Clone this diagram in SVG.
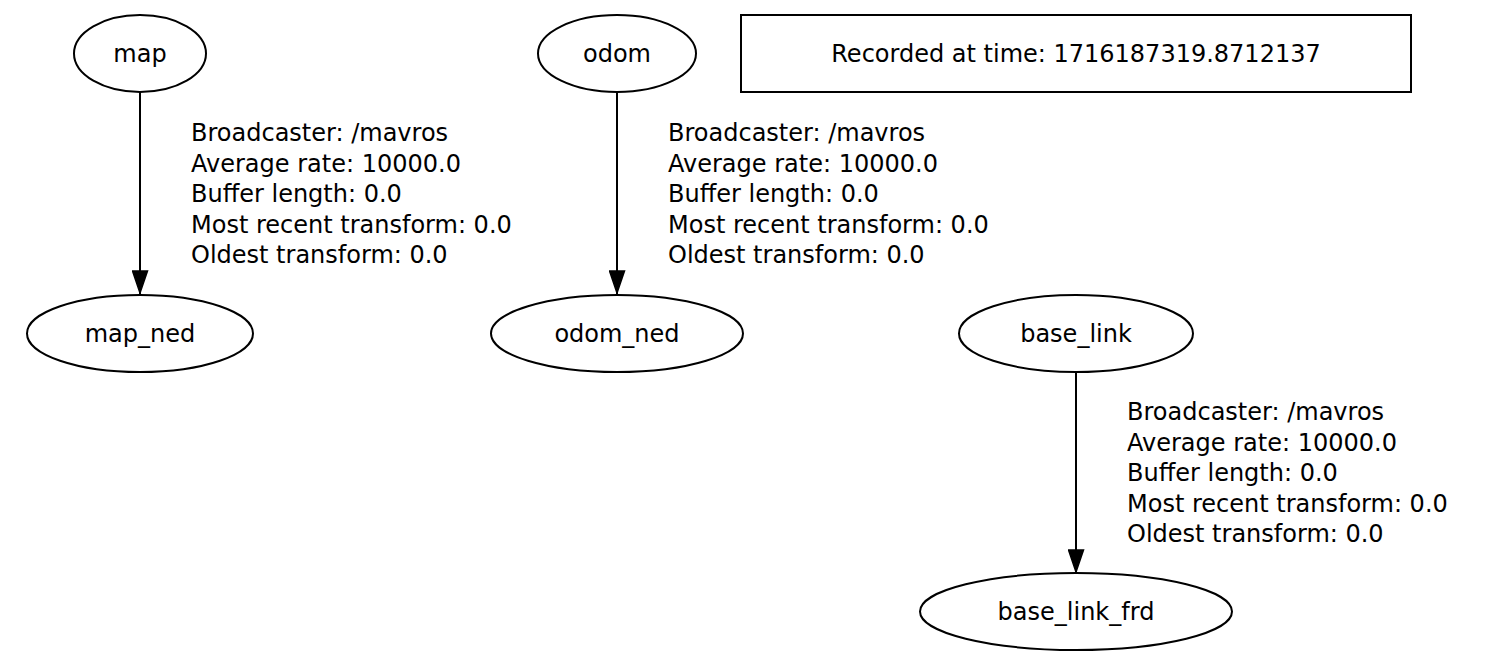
<svg xmlns="http://www.w3.org/2000/svg" width="1486" height="671" viewBox="0 0 1486 671">
<style>
.n{fill:#fff;stroke:#000;stroke-width:2}
.t{font-family:"DejaVu Sans",sans-serif;font-size:24px;fill:#000}
.c{text-anchor:middle}
.e{stroke:#000;stroke-width:2;fill:none}
</style>
<defs>
<marker id="ah" markerUnits="userSpaceOnUse" markerWidth="24" markerHeight="17" refX="24" refY="8.5" orient="auto" viewBox="0 0 24 17">
<path d="M1,1 L23,8.5 L1,16 Z" fill="#000" stroke="#000" stroke-width="1.5"/>
</marker>
</defs>
<rect width="1486" height="671" fill="#fff"/>
<g id="connectors">
<line class="e" x1="140" y1="92" x2="140" y2="294" marker-end="url(#ah)"/>
<line class="e" x1="617" y1="92" x2="617" y2="294" marker-end="url(#ah)"/>
<line class="e" x1="1076" y1="372" x2="1076" y2="573" marker-end="url(#ah)"/>
<g class="t">
<text x="191" y="141">Broadcaster: /mavros</text>
<text x="191" y="171.5">Average rate: 10000.0</text>
<text x="191" y="202">Buffer length: 0.0</text>
<text x="191" y="232.5">Most recent transform: 0.0</text>
<text x="191" y="263">Oldest transform: 0.0</text>
</g>
<g class="t">
<text x="668" y="141">Broadcaster: /mavros</text>
<text x="668" y="171.5">Average rate: 10000.0</text>
<text x="668" y="202">Buffer length: 0.0</text>
<text x="668" y="232.5">Most recent transform: 0.0</text>
<text x="668" y="263">Oldest transform: 0.0</text>
</g>
<g class="t">
<text x="1127" y="420">Broadcaster: /mavros</text>
<text x="1127" y="450.5">Average rate: 10000.0</text>
<text x="1127" y="481">Buffer length: 0.0</text>
<text x="1127" y="511.5">Most recent transform: 0.0</text>
<text x="1127" y="542">Oldest transform: 0.0</text>
</g>
</g>
<g id="map">
<ellipse class="n" cx="140" cy="53.5" rx="66" ry="38.5"/>
<text class="t c" x="140" y="62">map</text>
</g>
<g id="map_ned">
<ellipse class="n" cx="140" cy="333.5" rx="113" ry="38.5"/>
<text class="t c" x="140" y="342">map_ned</text>
</g>
<g id="odom">
<ellipse class="n" cx="617" cy="53.5" rx="79" ry="38.5"/>
<text class="t c" x="617" y="62">odom</text>
</g>
<g id="odom_ned">
<ellipse class="n" cx="617" cy="333.5" rx="126" ry="38.5"/>
<text class="t c" x="617" y="342">odom_ned</text>
</g>
<g id="base_link">
<ellipse class="n" cx="1076" cy="333.5" rx="117" ry="38.5"/>
<text class="t c" x="1076" y="342">base_link</text>
</g>
<g id="base_link_frd">
<ellipse class="n" cx="1076" cy="611.5" rx="156" ry="38.5"/>
<text class="t c" x="1076" y="620">base_link_frd</text>
</g>
<g id="recorded">
<rect class="n" x="741" y="15" width="670" height="77"/>
<text class="t c" x="1076" y="62">Recorded at time: 1716187319.8712137</text>
</g>
</svg>
